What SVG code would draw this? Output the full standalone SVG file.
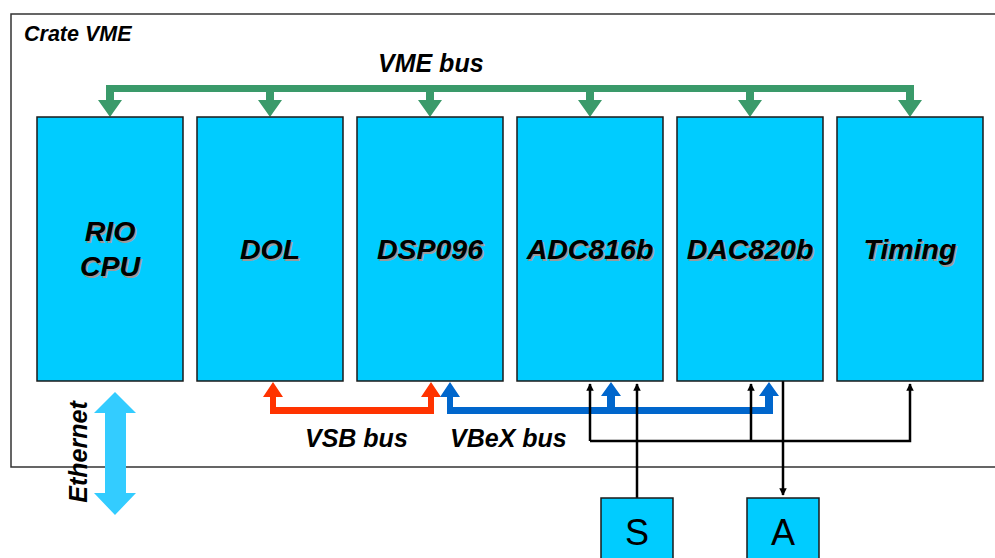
<svg xmlns="http://www.w3.org/2000/svg" width="995" height="558" viewBox="0 0 995 558">
<style>
.box{fill:#00ccff;stroke:#1a1a1a;stroke-width:1.5}
.lbl{font-family:"Liberation Sans",Arial,sans-serif;font-weight:bold;font-style:italic;font-size:28.5px;text-anchor:middle;fill:#000}
.sh{fill:#9a9a9a}
.bus{font-family:"Liberation Sans",Arial,sans-serif;font-weight:bold;font-style:italic;font-size:25px;fill:#000}
.io{font-family:"Liberation Sans",Arial,sans-serif;font-size:36px;text-anchor:middle;fill:#000}
.blk{fill:none;stroke:#000;stroke-width:2.5}
</style>
<defs>
<marker id="ah" viewBox="0 0 10 10" refX="9" refY="5" markerWidth="3" markerHeight="3" orient="auto" markerUnits="strokeWidth"><path d="M0,0 L10,5 L0,10 z" fill="#000"/></marker>
</defs>
<rect width="995" height="558" fill="#fff"/>
<g id="crate">
<path d="M1000,14 H11 V467 H1000" fill="none" stroke="#333" stroke-width="1.5"/>
<text x="24" y="41" font-family="Liberation Sans,Arial,sans-serif" font-weight="bold" font-style="italic" font-size="21.5">Crate VME</text>
</g>
<g id="connectors">
<g id="vmebus" fill="#3a9a6a">
<rect x="106" y="85" width="808" height="7"/>
<path d="M106,85 h8 v15 h8 l-12,17 l-12,-17 h8 z"/>
<path d="M266,88 h8 v12 h8 l-12,17 l-12,-17 h8 z"/>
<path d="M426,88 h8 v12 h8 l-12,17 l-12,-17 h8 z"/>
<path d="M586,88 h8 v12 h8 l-12,17 l-12,-17 h8 z"/>
<path d="M746,88 h8 v12 h8 l-12,17 l-12,-17 h8 z"/>
<path d="M906,85 h8 v15 h8 l-12,17 l-12,-17 h8 z"/>
<text class="bus" x="378" y="72">VME bus</text>
</g>
<g id="vsbbus" fill="#ff3300">
<path d="M270,414 V397 h-7 l10,-15 l10,15 h-7 V407 H428 V397 h-7 l10,-15 l10,15 h-7 V414 z"/>
<text class="bus" x="305" y="447">VSB bus</text>
</g>
<g id="vbexbus" fill="#0066cc">
<path d="M447,414 V397 h-7 l10,-15 l10,15 h-7 V407 H607 V396 h-6 l10,-14 l10,14 h-6 V407 H765 V396 h-6 l10,-14 l10,14 h-6 V414 z"/>
<text class="bus" x="450" y="447">VBeX bus</text>
</g>
<g id="signals">
<path class="blk" d="M590,441 V384" marker-end="url(#ah)"/>
<path class="blk" d="M590,441 H910 V384" marker-end="url(#ah)"/>
<path class="blk" d="M751,441 V384" marker-end="url(#ah)" stroke-width="3"/>
<path class="blk" d="M637,498 V384" marker-end="url(#ah)"/>
<path class="blk" d="M783,381 V495" marker-end="url(#ah)"/>
</g>
<g id="ethernet">
<path d="M115,392 l21,21 h-10 v80 h10 l-21,22 l-21,-22 h11 v-80 h-11 z" fill="#33ccff"/>
<text class="bus" transform="translate(87,452) rotate(-90)" text-anchor="middle">Ethernet</text>
</g>
</g>
<g id="rio">
<rect class="box" x="37" y="117" width="146" height="264"/>
<text class="lbl sh" x="111.5" y="242.5">RIO</text><text class="lbl" x="110" y="241">RIO</text>
<text class="lbl sh" x="111.5" y="277.5">CPU</text><text class="lbl" x="110" y="276">CPU</text>
</g>
<g id="dol">
<rect class="box" x="197" y="117" width="146" height="264"/>
<text class="lbl sh" x="271.5" y="260.5">DOL</text><text class="lbl" x="270" y="259">DOL</text>
</g>
<g id="dsp096">
<rect class="box" x="357" y="117" width="146" height="264"/>
<text class="lbl sh" x="431.5" y="260.5">DSP096</text><text class="lbl" x="430" y="259">DSP096</text>
</g>
<g id="adc816b">
<rect class="box" x="517" y="117" width="146" height="264"/>
<text class="lbl sh" x="591.5" y="260.5">ADC816b</text><text class="lbl" x="590" y="259">ADC816b</text>
</g>
<g id="dac820b">
<rect class="box" x="677" y="117" width="146" height="264"/>
<text class="lbl sh" x="751.5" y="260.5">DAC820b</text><text class="lbl" x="750" y="259">DAC820b</text>
</g>
<g id="timing">
<rect class="box" x="837" y="117" width="146" height="264"/>
<text class="lbl sh" x="911.5" y="260.5">Timing</text><text class="lbl" x="910" y="259">Timing</text>
</g>
<g id="s">
<rect class="box" x="601" y="498" width="72" height="70"/>
<text class="io" x="637" y="545">S</text>
</g>
<g id="a">
<rect class="box" x="747" y="498" width="72" height="70"/>
<text class="io" x="783" y="545">A</text>
</g>
</svg>
